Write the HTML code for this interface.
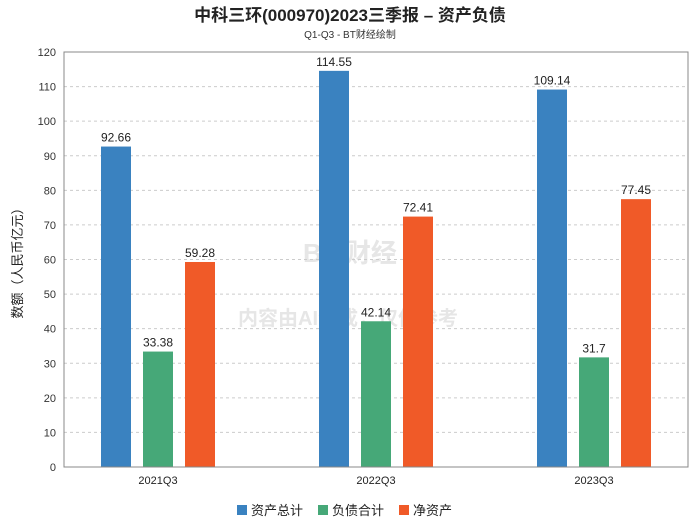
<!DOCTYPE html>
<html><head><meta charset="utf-8"><style>
body{margin:0;background:#fff;font-family:"Liberation Sans","Noto Sans CJK SC",sans-serif}
</style></head><body>
<svg id="chart" width="700" height="524" xmlns="http://www.w3.org/2000/svg" font-family="Liberation Sans, Noto Sans CJK SC, sans-serif">
<text x="350" y="21" text-anchor="middle" font-size="17" font-weight="bold" fill="#222">中科三环(000970)2023三季报 – 资产负债</text>
<text x="350" y="38" text-anchor="middle" font-size="10" fill="#333">Q1-Q3 - BT财经绘制</text>
<text x="350" y="262" text-anchor="middle" font-size="26" font-weight="bold" fill="#e6e6e6">BT 财经</text>
<text x="348" y="325" text-anchor="middle" font-size="20" font-weight="bold" fill="#e6e6e6">内容由AI生成，仅供参考</text>
<g id="grid"></g><g id="bars"></g><g id="axes"></g>
<text transform="translate(22,260) rotate(-90)" text-anchor="middle" font-size="13" fill="#222">数额（人民币亿元）</text>
<g id="legend"></g>
</svg>
<script>
const categories=["2021Q3","2022Q3","2023Q3"];
const seriesNames=["资产总计","负债合计","净资产"];
const assets=[92.66,114.55,109.14];
const liabilities=[33.38,42.14,31.7];
const equity=[59.28,72.41,77.45];
const yTicks=[0,10,20,30,40,50,60,70,80,90,100,110,120];
const colors=["#3a82c0","#46a878","#f05a28"];
const NS="http://www.w3.org/2000/svg";
const L=64,R=688,T=52,B=467;
const y=v=>B-(v/120)*(B-T);
const xc=i=>(L+R)/2+(i-(categories.length-1)/2)*218;
function mk(t,a,p){const e=document.createElementNS(NS,t);for(const k in a)e.setAttribute(k,a[k]);p.appendChild(e);return e;}
const grid=document.getElementById('grid'),axes=document.getElementById('axes'),bars=document.getElementById('bars'),leg=document.getElementById('legend');
yTicks.forEach(v=>{
 const g=mk('line',{x1:L,x2:R,y1:y(v),y2:y(v),stroke:'#ccc','stroke-dasharray':'3,3'},grid);
 
 
 const t=mk('text',{x:L-8,y:y(v)+4,'text-anchor':'end','font-size':11,fill:'#333'},axes);t.textContent=v;
 
 
});
const ax=mk('rect',{x:L,y:T,width:R-L,height:B-T,fill:'none',stroke:'#888'},axes);


const series=[assets,liabilities,equity];
categories.forEach((c,i)=>{
 const t=mk('text',{x:xc(i),y:B+17,'text-anchor':'middle','font-size':11,fill:'#222'},axes);t.textContent=c;
 
 
 series.forEach((s,j)=>{
  const cx=xc(i)+(j-1)*42;
  const r=mk('rect',{x:cx-15,y:y(s[i]),width:30,height:B-y(s[i]),fill:colors[j]},bars);
  
  
  const l=mk('text',{x:cx,y:y(s[i])-5,'text-anchor':'middle','font-size':12,fill:'#222'},bars);l.textContent=s[i];
  
  
 });
});
const lx=[237,318,399];
seriesNames.forEach((n,j)=>{
 const r=mk('rect',{x:lx[j],y:505,width:10,height:10,fill:colors[j]},leg);
 
 
 const t=mk('text',{x:lx[j]+14,y:515,'font-size':13,fill:'#222'},leg);t.textContent=n;
 
 
});
</script>
</body></html>
